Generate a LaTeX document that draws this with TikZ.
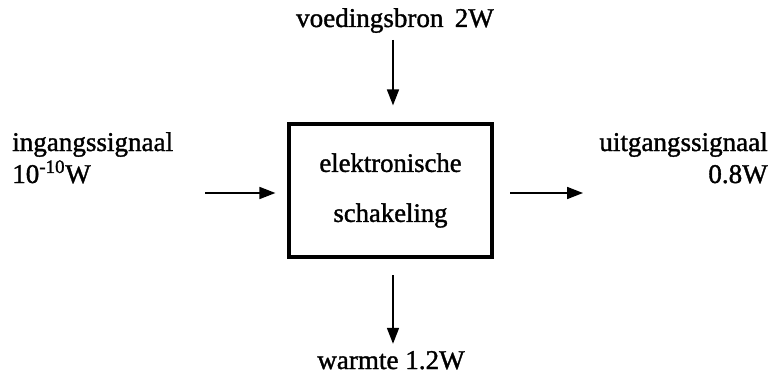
\documentclass[tikz,border=0pt]{standalone}
\usepackage{fontspec}
\setmainfont[FakeBold=1.3]{Liberation Serif}
\usetikzlibrary{arrows.meta}
\begin{document}
\begin{tikzpicture}[x=0.75pt,y=-0.75pt,
  lbl/.style={inner sep=0pt,font=\fontsize{20.3}{24}\selectfont},
  arr/.style={line width=1.3pt,-{Triangle[length=12pt,width=9pt]}},
  blok/.style={draw,line width=2.4pt,minimum width=203*0.75pt,minimum height=133*0.75pt,
    align=center,font=\fontsize{20}{37.5}\selectfont}]
\useasboundingbox (0,0) rectangle (774,374);
\node[blok] (box) at (390.5,190.5) {elektronische\\schakeling};
\node[lbl,anchor=base] (top) at (395,27) {voedingsbron\, 2W};
\node[lbl,anchor=base] (bot) at (391,369) {warmte 1.2W};
\node[lbl,anchor=base west,align=left] (in) at (12,183) {ingangssignaal\\10\textsuperscript{-10}W};
\node[lbl,anchor=base east,align=right] (out) at (768,183) {uitgangssignaal\\0.8W};
\coordinate (a1) at (393,40);
\coordinate (a2) at (393,275);
\coordinate (a3) at (205,193);
\coordinate (a4) at (510,193);
\draw[arr,shorten >=17*0.75pt] (a1) -- (a1 |- box.north);
\draw[arr,shorten >=7*0.75pt] (a2) -- (a2 |- bot.north);
\draw[arr,shorten >=12*0.75pt] (a3) -- (a3 -| box.west);
\draw[arr] (a4) -- (583,193);
\end{tikzpicture}
\end{document}
